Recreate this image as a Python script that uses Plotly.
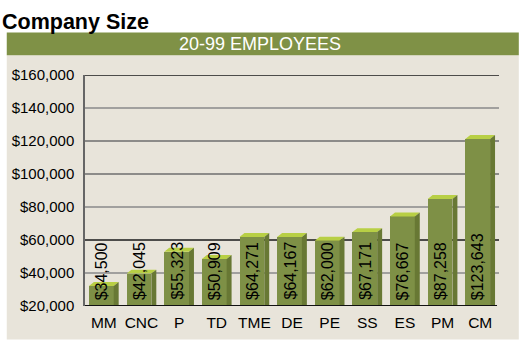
import plotly.graph_objects as go

# Average salary by job role, companies with 20-99 employees
roles = ["MM", "CNC", "P", "TD", "TME", "DE", "PE", "SS", "ES", "PM", "CM"]
salaries = [34500, 42045, 55323, 50909, 64271, 64167, 62000, 67171, 76667, 87258, 123643]
value_labels = ["$34,500", "$42,045", "$55,323", "$50,909", "$64,271", "$64,167",
                "$62,000", "$67,171", "$76,667", "$87,258", "$123,643"]
y_ticks = [20000, 40000, 60000, 80000, 100000, 120000, 140000, 160000]
y_tick_text = ["$20,000", "$40,000", "$60,000", "$80,000", "$100,000",
               "$120,000", "$140,000", "$160,000"]

W, H = 519, 343
ML, MR, MT, MB = 81, 20, 75, 34
PW, PH = W - ML - MR, H - MT - MB
Y0, Y1 = 20000, 160000
N = len(roles)

UX = N / PW            # x data units per pixel
UY = (Y1 - Y0) / PH    # y data units per pixel

FRONT = "#7e9046"
TOP = "#b8cf45"
SIDE = "#687834"
BEIGE = "#e8e4da"
BANNER = "#7f9146"

SANS = "Liberation Sans, Arial, sans-serif"

pos = list(range(N))
depth_x, depth_y = 5 * UX, 4 * UY

fig = go.Figure()

# front faces of the bars (the back-top edge sits at the value)
fig.add_trace(go.Bar(
    x=pos, y=[v - depth_y for v in salaries],
    offset=-15 * UX, width=25 * UX,
    marker=dict(color=FRONT, line=dict(width=0)),
    hoverinfo="skip", showlegend=False,
))

# top and side faces of each bar as filled polygons
tx, ty, sx, sy = [], [], [], []
for i, v in zip(pos, salaries):
    l, r = i - 15 * UX, i + 10 * UX
    tx += [l, r, r + depth_x, l + depth_x, l, None]
    ty += [v - depth_y, v - depth_y, v, v, v - depth_y, None]
    sx += [r, r + depth_x, r + depth_x, r, r, None]
    sy += [v - depth_y, v, Y0, Y0, v - depth_y, None]

fig.add_trace(go.Scatter(x=tx, y=ty, mode="lines", fill="toself", fillcolor=TOP,
                         line=dict(width=0, color=TOP), hoverinfo="skip", showlegend=False))
fig.add_trace(go.Scatter(x=sx, y=sy, mode="lines", fill="toself", fillcolor=SIDE,
                         line=dict(width=0, color=SIDE), hoverinfo="skip", showlegend=False))

shapes = []


def px_x(p):
    return (p - ML) / PW


def px_y(p):
    return (H - MB - p) / PH


# panel backgrounds
shapes.append(dict(type="rect", xref="paper", yref="paper", layer="below",
                   x0=px_x(2), x1=px_x(W), y0=px_y(H), y1=px_y(55),
                   fillcolor=BEIGE, line=dict(width=0)))
shapes.append(dict(type="rect", xref="paper", yref="paper", layer="below",
                   x0=px_x(2), x1=px_x(W), y0=px_y(55), y1=px_y(32),
                   fillcolor=BANNER, line=dict(width=0)))

# horizontal rules
grid_colors = {40000: "#8a8a8a", 60000: "#1a1a1a", 80000: "#8a8a8a", 100000: "#6e6e6e",
               120000: "#6e6e6e", 140000: "#8a8a8a", 160000: "#1a1a1a"}
for yv, c in grid_colors.items():
    shapes.append(dict(type="line", xref="paper", yref="y", layer="below",
                       x0=0, x1=1, y0=yv, y1=yv, line=dict(color=c, width=1.6)))
# baseline
shapes.append(dict(type="line", xref="paper", yref="y", layer="above",
                   x0=0, x1=px_x(497), y0=Y0, y1=Y0, line=dict(color="#111111", width=2)))

annotations = []
for i, t in zip(pos, value_labels):
    annotations.append(dict(x=i - 2.5 * UX, y=Y0, xref="x", yref="y", text=t,
                            textangle=-90, showarrow=False, xanchor="center",
                            yanchor="bottom", yshift=4,
                            font=dict(family=SANS, size=16, color="#000000")))

annotations.append(dict(x=px_x(-5), y=px_y(21), xref="paper", yref="paper",
                        text="<b>Company Size</b>", showarrow=False,
                        xanchor="left", yanchor="middle",
                        font=dict(family=SANS, size=21.5, color="#000000")))
annotations.append(dict(x=px_x(258), y=px_y(44), xref="paper", yref="paper",
                        text="20-99 EMPLOYEES", showarrow=False,
                        xanchor="center", yanchor="middle",
                        font=dict(family=SANS, size=18, color="#ffffff")))

fig.update_layout(
    width=W, height=H,
    margin=dict(l=ML, r=MR, t=MT, b=MB, pad=0),
    paper_bgcolor="#ffffff", plot_bgcolor=BEIGE,
    shapes=shapes, annotations=annotations,
    bargap=0, showlegend=False,
    xaxis=dict(range=[-0.5, N - 0.5], tickmode="array", tickvals=pos, ticktext=roles,
               showgrid=False, zeroline=False, showline=False, ticks="",
               tickfont=dict(family=SANS, size=15.5, color="#000000"),
               ticklabelstandoff=5, fixedrange=True),
    yaxis=dict(range=[Y0, Y1], tickmode="array", tickvals=y_ticks, ticktext=y_tick_text,
               showgrid=False, zeroline=False, showline=True, linecolor="#666666",
               linewidth=1.5, ticks="",
               tickfont=dict(family=SANS, size=15, color="#000000"),
               ticklabelstandoff=6, fixedrange=True),
)

fig.write_html("out.html", include_plotlyjs=True, config={"displayModeBar": False})
